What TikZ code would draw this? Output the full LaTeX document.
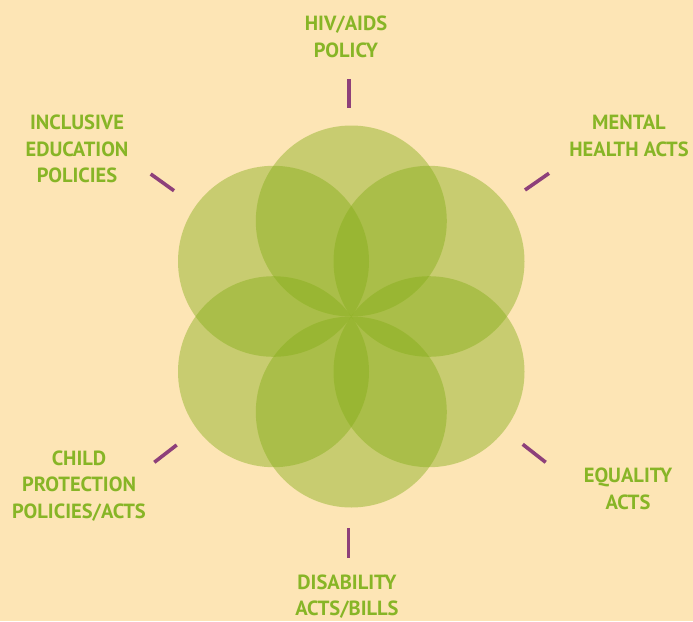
\documentclass[tikz,border=0pt]{standalone}
\usepackage{fontspec}
\setmainfont{PT Sans}
\definecolor{bgc}{RGB}{253,229,181}
\definecolor{petal}{RGB}{133,174,24}
\definecolor{lbl}{RGB}{135,181,38}
\definecolor{tickc}{RGB}{142,64,122}
\begin{document}
\begin{tikzpicture}[x=1pt,y=-1pt,
  petalc/.style={fill=petal,fill opacity=0.44},
  label/.style={text=lbl,font=\bfseries\fontsize{20.5}{26.5}\selectfont,align=center,inner sep=0pt},
  tick/.style={draw=tickc,line width=3.6pt}]
\fill[bgc] (0,0) rectangle (693,621);
\useasboundingbox (0,0) rectangle (693,621);
% petals
\foreach \cx/\cy in {351.3/221,429/261.3,429/371.7,351.3/412,273.5/371.7,273.5/261.3}
  \fill[petalc] (\cx,\cy) circle[radius=95.5pt];
% labels
\node[label] (hiv) at (346,37) {HIV/AIDS\\POLICY};
\node[label] (incl) at (77,149) {INCLUSIVE\\EDUCATION\\POLICIES};
\node[label] (ment) at (629,136) {MENTAL\\HEALTH ACTS};
\node[label] (child) at (79,486) {CHILD\\PROTECTION\\POLICIES/ACTS};
\node[label] (eq) at (628,489) {EQUALITY\\ACTS};
\node[label] (dis) at (347,596.5) {DISABILITY\\ACTS/BILLS};
% ticks
\coordinate (t1a) at (348.7,79); \coordinate (t1b) at (348.7,108);
\coordinate (t2a) at (150.7,174); \coordinate (t2b) at (174,190.7);
\coordinate (t3a) at (525,190); \coordinate (t3b) at (549,173.3);
\coordinate (t4a) at (154.3,462.3); \coordinate (t4b) at (176.7,445);
\coordinate (t5a) at (522.7,444.3); \coordinate (t5b) at (545.7,462.3);
\coordinate (t6a) at (348.3,528.3); \coordinate (t6b) at (348.3,557.7);
\foreach \i in {1,...,6} \draw[tick] (t\i a) -- (t\i b);
\end{tikzpicture}
\end{document}
